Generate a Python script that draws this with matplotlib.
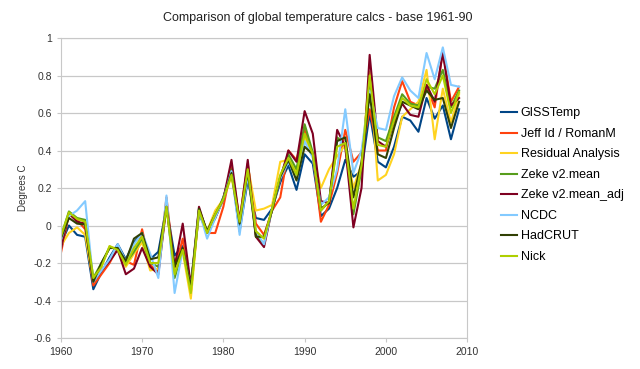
import matplotlib.pyplot as plt
import numpy as np

plt.rcParams['font.family'] = ['Liberation Sans', 'DejaVu Sans']

years = np.arange(1960, 2010)

giss = [-0.10, 0.00, -0.05, -0.06, -0.34, -0.25, -0.17, -0.10, -0.18, -0.09,
        -0.04, -0.18, -0.14, 0.10, -0.16, -0.11, -0.32, 0.06, -0.03, 0.05,
        0.15, 0.29, -0.03, 0.24, 0.04, 0.03, 0.09, 0.23, 0.32, 0.19,
        0.38, 0.33, 0.05, 0.09, 0.20, 0.35, 0.26, 0.29, 0.60, 0.34,
        0.31, 0.42, 0.58, 0.56, 0.50, 0.68, 0.57, 0.64, 0.46, 0.62]
jeff = [-0.15, 0.06, 0.03, -0.02, -0.32, -0.26, -0.20, -0.12, -0.19, -0.21,
        -0.02, -0.21, -0.25, 0.15, -0.24, -0.07, -0.36, 0.08, -0.04, -0.04,
        0.10, 0.31, 0.03, 0.33, 0.01, -0.05, 0.08, 0.15, 0.40, 0.35,
        0.51, 0.38, 0.02, 0.11, 0.28, 0.51, 0.34, 0.39, 0.62, 0.40,
        0.40, 0.63, 0.77, 0.66, 0.64, 0.74, 0.63, 0.93, 0.66, 0.74]
resid = [-0.11, -0.04, -0.01, -0.05, -0.30, -0.22, -0.11, -0.13, -0.22, -0.15,
         -0.09, -0.24, -0.23, 0.10, -0.25, -0.14, -0.39, 0.08, -0.03, 0.08,
         0.14, 0.26, 0.02, 0.32, 0.08, 0.09, 0.11, 0.34, 0.35, 0.29,
         0.47, 0.38, 0.20, 0.30, 0.37, 0.43, 0.20, 0.33, 0.82, 0.24,
         0.27, 0.38, 0.58, 0.62, 0.66, 0.83, 0.46, 0.73, 0.55, 0.70]
zeke = [-0.06, 0.075, 0.04, 0.03, -0.28, -0.20, -0.12, -0.12, -0.20, -0.14,
        -0.07, -0.20, -0.22, 0.11, -0.28, -0.13, -0.33, 0.08, -0.04, 0.04,
        0.15, 0.30, 0.01, 0.30, -0.05, -0.10, 0.09, 0.26, 0.38, 0.30,
        0.54, 0.39, 0.08, 0.13, 0.47, 0.43, 0.06, 0.30, 0.75, 0.47,
        0.45, 0.58, 0.70, 0.65, 0.64, 0.74, 0.73, 0.83, 0.63, 0.72]
zeke_adj = [-0.13, 0.065, 0.02, 0.01, -0.30, -0.24, -0.19, -0.13, -0.26, -0.23,
            -0.12, -0.22, -0.26, 0.11, -0.22, 0.01, -0.32, 0.10, -0.04, 0.04,
            0.14, 0.35, 0.02, 0.35, -0.06, -0.115, 0.09, 0.25, 0.40, 0.34,
            0.61, 0.49, 0.13, 0.12, 0.51, 0.42, -0.01, 0.20, 0.91, 0.45,
            0.42, 0.55, 0.65, 0.59, 0.58, 0.75, 0.66, 0.92, 0.64, 0.68]
ncdc = [-0.08, 0.05, 0.08, 0.13, -0.30, -0.24, -0.18, -0.10, -0.19, -0.10,
        -0.04, -0.15, -0.28, 0.16, -0.36, -0.13, -0.33, 0.08, -0.07, 0.04,
        0.14, 0.29, -0.05, 0.27, -0.03, -0.10, 0.09, 0.25, 0.34, 0.25,
        0.45, 0.36, 0.11, 0.15, 0.30, 0.62, 0.28, 0.40, 0.72, 0.52,
        0.51, 0.69, 0.79, 0.72, 0.68, 0.92, 0.78, 0.95, 0.75, 0.74]
hadcrut = [-0.07, 0.04, 0.01, 0.005, -0.30, -0.20, -0.12, -0.12, -0.19, -0.07,
           -0.04, -0.18, -0.17, 0.10, -0.22, -0.12, -0.33, 0.09, -0.03, 0.06,
           0.14, 0.28, 0.01, 0.29, -0.06, -0.06, 0.08, 0.26, 0.35, 0.24,
           0.42, 0.38, 0.09, 0.12, 0.45, 0.47, 0.15, 0.34, 0.70, 0.38,
           0.36, 0.52, 0.66, 0.64, 0.62, 0.72, 0.67, 0.68, 0.52, 0.66]
nick = [-0.06, 0.07, 0.035, 0.02, -0.28, -0.22, -0.11, -0.13, -0.21, -0.12,
        -0.06, -0.20, -0.20, 0.10, -0.26, -0.13, -0.36, 0.08, -0.04, 0.06,
        0.14, 0.27, 0.02, 0.30, -0.03, -0.07, 0.09, 0.27, 0.36, 0.27,
        0.49, 0.38, 0.08, 0.13, 0.42, 0.44, 0.09, 0.32, 0.80, 0.43,
        0.42, 0.56, 0.68, 0.64, 0.63, 0.78, 0.70, 0.80, 0.60, 0.71]

names = ['GISSTemp', 'Jeff Id / RomanM', 'Residual Analysis', 'Zeke v2.mean',
         'Zeke v2.mean_adj', 'NCDC', 'HadCRUT', 'Nick']
series = [giss, jeff, resid, zeke, zeke_adj, ncdc, hadcrut, nick]
colors = ['#004586', '#ff420e', '#ffd320', '#579d1c',
          '#7e0021', '#83caff', '#314004', '#aecf00']

fig = plt.figure(figsize=(6.4, 3.69), dpi=100)
ax = fig.add_axes([0.095, 0.084, 0.635, 0.813])

for vals, name, c in zip(series, names, colors):
    ax.plot(years, vals, color=c, lw=1.5, label=name)

ax.set_xlim(1960, 2010)
ax.set_ylim(-0.6, 1)
ax.set_xticks(np.arange(1960, 2011, 10))
ax.set_yticks([-0.6, -0.4, -0.2, 0, 0.2, 0.4, 0.6, 0.8, 1])
ax.set_yticklabels(['-0.6', '-0.4', '-0.2', '0', '0.2', '0.4', '0.6', '0.8', '1'])
ax.yaxis.grid(True, color='#c8c8c8', lw=0.9)
ax.set_axisbelow(True)
for s in ax.spines.values():
    s.set_color('#c8c8c8')
ax.tick_params(axis='both', labelsize=7.5, colors='#c8c8c8', labelcolor='#333333', length=3)
ax.set_ylabel('Degrees C', fontsize=7, color='#333333')
fig.text(0.497, 0.951, 'Comparison of global temperature calcs - base 1961-90',
         fontsize=9, color='#222222', ha='center', va='center')

fig.legend(loc='center left', bbox_to_anchor=(0.765, 0.498), frameon=False,
           fontsize=9, handlelength=1.3, handletextpad=0.3, labelspacing=0.68)

fig.savefig('out.png', dpi=100)
